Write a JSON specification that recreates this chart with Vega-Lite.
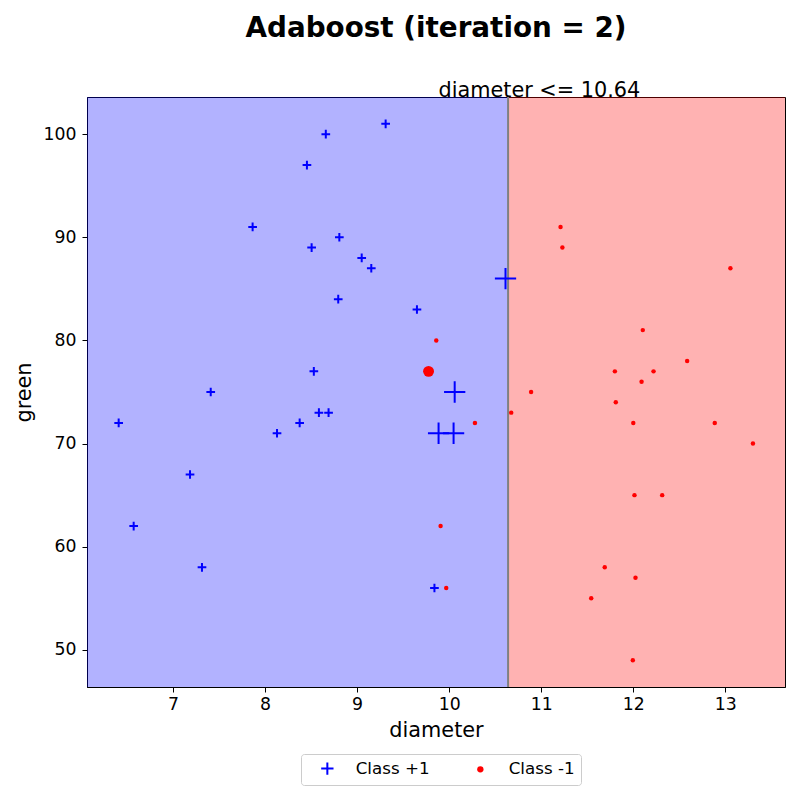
{
  "$schema": "https://vega.github.io/schema/vega-lite/v6.json",
  "autosize": {"type": "none"},
  "width": 698,
  "height": 590,
  "padding": {"left": 87, "top": 97, "right": 15, "bottom": 113},
  "background": "white",
  "title": {
    "text": "Adaboost (iteration = 2)",
    "font": "DejaVu Sans",
    "fontSize": 27.8,
    "fontWeight": "bold",
    "color": "black",
    "anchor": "middle",
    "offset": 37
  },
  "datasets": {
    "points": [
      {"diameter": 9.31, "green": 101, "cls": "Class +1", "weight": 1},
      {"diameter": 8.66, "green": 100, "cls": "Class +1", "weight": 1},
      {"diameter": 8.455, "green": 97, "cls": "Class +1", "weight": 1},
      {"diameter": 7.865, "green": 91, "cls": "Class +1", "weight": 1},
      {"diameter": 8.807, "green": 90, "cls": "Class +1", "weight": 1},
      {"diameter": 8.506, "green": 89, "cls": "Class +1", "weight": 1},
      {"diameter": 9.05, "green": 88, "cls": "Class +1", "weight": 1},
      {"diameter": 9.154, "green": 87, "cls": "Class +1", "weight": 1},
      {"diameter": 8.795, "green": 84, "cls": "Class +1", "weight": 1},
      {"diameter": 9.65, "green": 83, "cls": "Class +1", "weight": 1},
      {"diameter": 8.53, "green": 77, "cls": "Class +1", "weight": 1},
      {"diameter": 7.41, "green": 75, "cls": "Class +1", "weight": 1},
      {"diameter": 6.41, "green": 72, "cls": "Class +1", "weight": 1},
      {"diameter": 8.585, "green": 73, "cls": "Class +1", "weight": 1},
      {"diameter": 8.69, "green": 73, "cls": "Class +1", "weight": 1},
      {"diameter": 8.376, "green": 72, "cls": "Class +1", "weight": 1},
      {"diameter": 8.13, "green": 71, "cls": "Class +1", "weight": 1},
      {"diameter": 7.185, "green": 67, "cls": "Class +1", "weight": 1},
      {"diameter": 6.573, "green": 62, "cls": "Class +1", "weight": 1},
      {"diameter": 7.315, "green": 58, "cls": "Class +1", "weight": 1},
      {"diameter": 9.84, "green": 56, "cls": "Class +1", "weight": 1},
      {"diameter": 10.06, "green": 75, "cls": "Class +1", "weight": 6},
      {"diameter": 9.885, "green": 71, "cls": "Class +1", "weight": 6},
      {"diameter": 10.048, "green": 71, "cls": "Class +1", "weight": 6},
      {"diameter": 10.612, "green": 86, "cls": "Class +1", "weight": 6},
      {"diameter": 11.21, "green": 91, "cls": "Class -1", "weight": 1},
      {"diameter": 11.23, "green": 89, "cls": "Class -1", "weight": 1},
      {"diameter": 13.055, "green": 87, "cls": "Class -1", "weight": 1},
      {"diameter": 12.103, "green": 81, "cls": "Class -1", "weight": 1},
      {"diameter": 9.86, "green": 80, "cls": "Class -1", "weight": 1},
      {"diameter": 9.776, "green": 77, "cls": "Class -1", "weight": 6},
      {"diameter": 12.585, "green": 78, "cls": "Class -1", "weight": 1},
      {"diameter": 11.8, "green": 77, "cls": "Class -1", "weight": 1},
      {"diameter": 12.22, "green": 77, "cls": "Class -1", "weight": 1},
      {"diameter": 12.09, "green": 76, "cls": "Class -1", "weight": 1},
      {"diameter": 10.89, "green": 75, "cls": "Class -1", "weight": 1},
      {"diameter": 11.81, "green": 74, "cls": "Class -1", "weight": 1},
      {"diameter": 10.674, "green": 73, "cls": "Class -1", "weight": 1},
      {"diameter": 10.28, "green": 72, "cls": "Class -1", "weight": 1},
      {"diameter": 12.0, "green": 72, "cls": "Class -1", "weight": 1},
      {"diameter": 12.885, "green": 72, "cls": "Class -1", "weight": 1},
      {"diameter": 13.3, "green": 70, "cls": "Class -1", "weight": 1},
      {"diameter": 12.013, "green": 65, "cls": "Class -1", "weight": 1},
      {"diameter": 12.314, "green": 65, "cls": "Class -1", "weight": 1},
      {"diameter": 9.907, "green": 62, "cls": "Class -1", "weight": 1},
      {"diameter": 11.69, "green": 58, "cls": "Class -1", "weight": 1},
      {"diameter": 12.024, "green": 57, "cls": "Class -1", "weight": 1},
      {"diameter": 9.968, "green": 56, "cls": "Class -1", "weight": 1},
      {"diameter": 11.543, "green": 55, "cls": "Class -1", "weight": 1},
      {"diameter": 11.995, "green": 49, "cls": "Class -1", "weight": 1}
    ],
    "regions": [
      {"x0": 6.066, "x1": 10.64, "cls": "Class +1"},
      {"x0": 10.64, "x1": 13.648, "cls": "Class -1"}
    ],
    "split": [
      {"threshold": 10.64, "label": "diameter <= 10.64", "labelAt": 10.98}
    ]
  },
  "layer": [
    {
      "data": {"name": "regions"},
      "mark": {"type": "rect", "opacity": 0.3},
      "encoding": {
        "x": {"field": "x0", "type": "quantitative", "title": "diameter", "scale": {"domain": [6.066, 13.648], "nice": false, "zero": false}},
        "x2": {"field": "x1"},
        "color": {"condition": {"test": "datum.cls === 'Class +1'", "value": "#0000ff"}, "value": "#ff0000"}
      }
    },
    {
      "data": {"name": "split"},
      "mark": {"type": "rule", "color": "#808080", "strokeWidth": 2},
      "encoding": {
        "x": {"field": "threshold", "type": "quantitative", "title": "diameter", "scale": {"domain": [6.066, 13.648], "nice": false, "zero": false}}
      }
    },
    {
      "data": {"name": "points"},
      "mark": {"type": "point", "filled": true, "opacity": 1, "strokeWidth": 2},
      "encoding": {
        "x": {"field": "diameter", "type": "quantitative", "title": "diameter", "scale": {"domain": [6.066, 13.648], "nice": false, "zero": false},
          "axis": {"values": [7, 8, 9, 10, 11, 12, 13], "format": "d"}},
        "y": {"field": "green", "type": "quantitative", "title": "green", "scale": {"domain": [46.4, 103.6], "nice": false, "zero": false},
          "axis": {"values": [50, 60, 70, 80, 90, 100], "format": "d"}},
        "color": {"field": "cls", "type": "nominal", "title": null, "scale": {"domain": ["Class +1", "Class -1"], "range": ["#0000ff", "#ff0000"]}},
        "stroke": {"field": "cls", "type": "nominal", "title": null, "scale": {"domain": ["Class +1", "Class -1"], "range": ["#0000ff", "transparent"]}},
        "shape": {"field": "cls", "type": "nominal", "title": null, "scale": {"domain": ["Class +1", "Class -1"], "range": ["M-1.95,0L1.95,0M0,-1.95L0,1.95", "circle"]}},
        "size": {"field": "weight", "type": "quantitative", "legend": null, "scale": {"type": "linear", "domain": [0, 6], "range": [0, 119]}}
      }
    },
    {
      "data": {"name": "split"},
      "mark": {"type": "text", "font": "DejaVu Sans", "fontSize": 20.8, "color": "black", "align": "center", "baseline": "alphabetic"},
      "encoding": {
        "x": {"field": "labelAt", "type": "quantitative", "title": "diameter", "scale": {"domain": [6.066, 13.648], "nice": false, "zero": false}},
        "y": {"datum": 103.6, "type": "quantitative", "scale": {"domain": [46.4, 103.6], "nice": false, "zero": false}},
        "text": {"field": "label"}
      }
    }
  ],
  "config": {
    "font": "DejaVu Sans",
    "view": {"stroke": "black", "strokeWidth": 1},
    "axis": {
      "grid": false,
      "domainColor": "black",
      "domainWidth": 1,
      "tickColor": "black",
      "tickWidth": 1,
      "tickSize": 5,
      "labelFont": "DejaVu Sans",
      "labelFontSize": 17.3,
      "labelColor": "black",
      "labelPadding": 3,
      "labelFlush": false,
      "titleFont": "DejaVu Sans",
      "titleFontSize": 20.8,
      "titleFontWeight": "normal",
      "titleColor": "black"
    },
    "axisX": {"titlePadding": 8},
    "axisY": {"titlePadding": 9, "labelPadding": 6},
    "legend": {
      "orient": "none",
      "legendX": 214,
      "legendY": 657,
      "direction": "horizontal",
      "strokeColor": "#cccccc",
      "fillColor": "white",
      "padding": 6,
      "cornerRadius": 3,
      "symbolSize": 40,
      "symbolStrokeWidth": 2,
      "symbolOffset": 12,
      "labelOffset": 20,
      "columnPadding": 30,
      "labelFont": "DejaVu Sans",
      "labelFontSize": 16.7,
      "labelColor": "black"
    }
  }
}
